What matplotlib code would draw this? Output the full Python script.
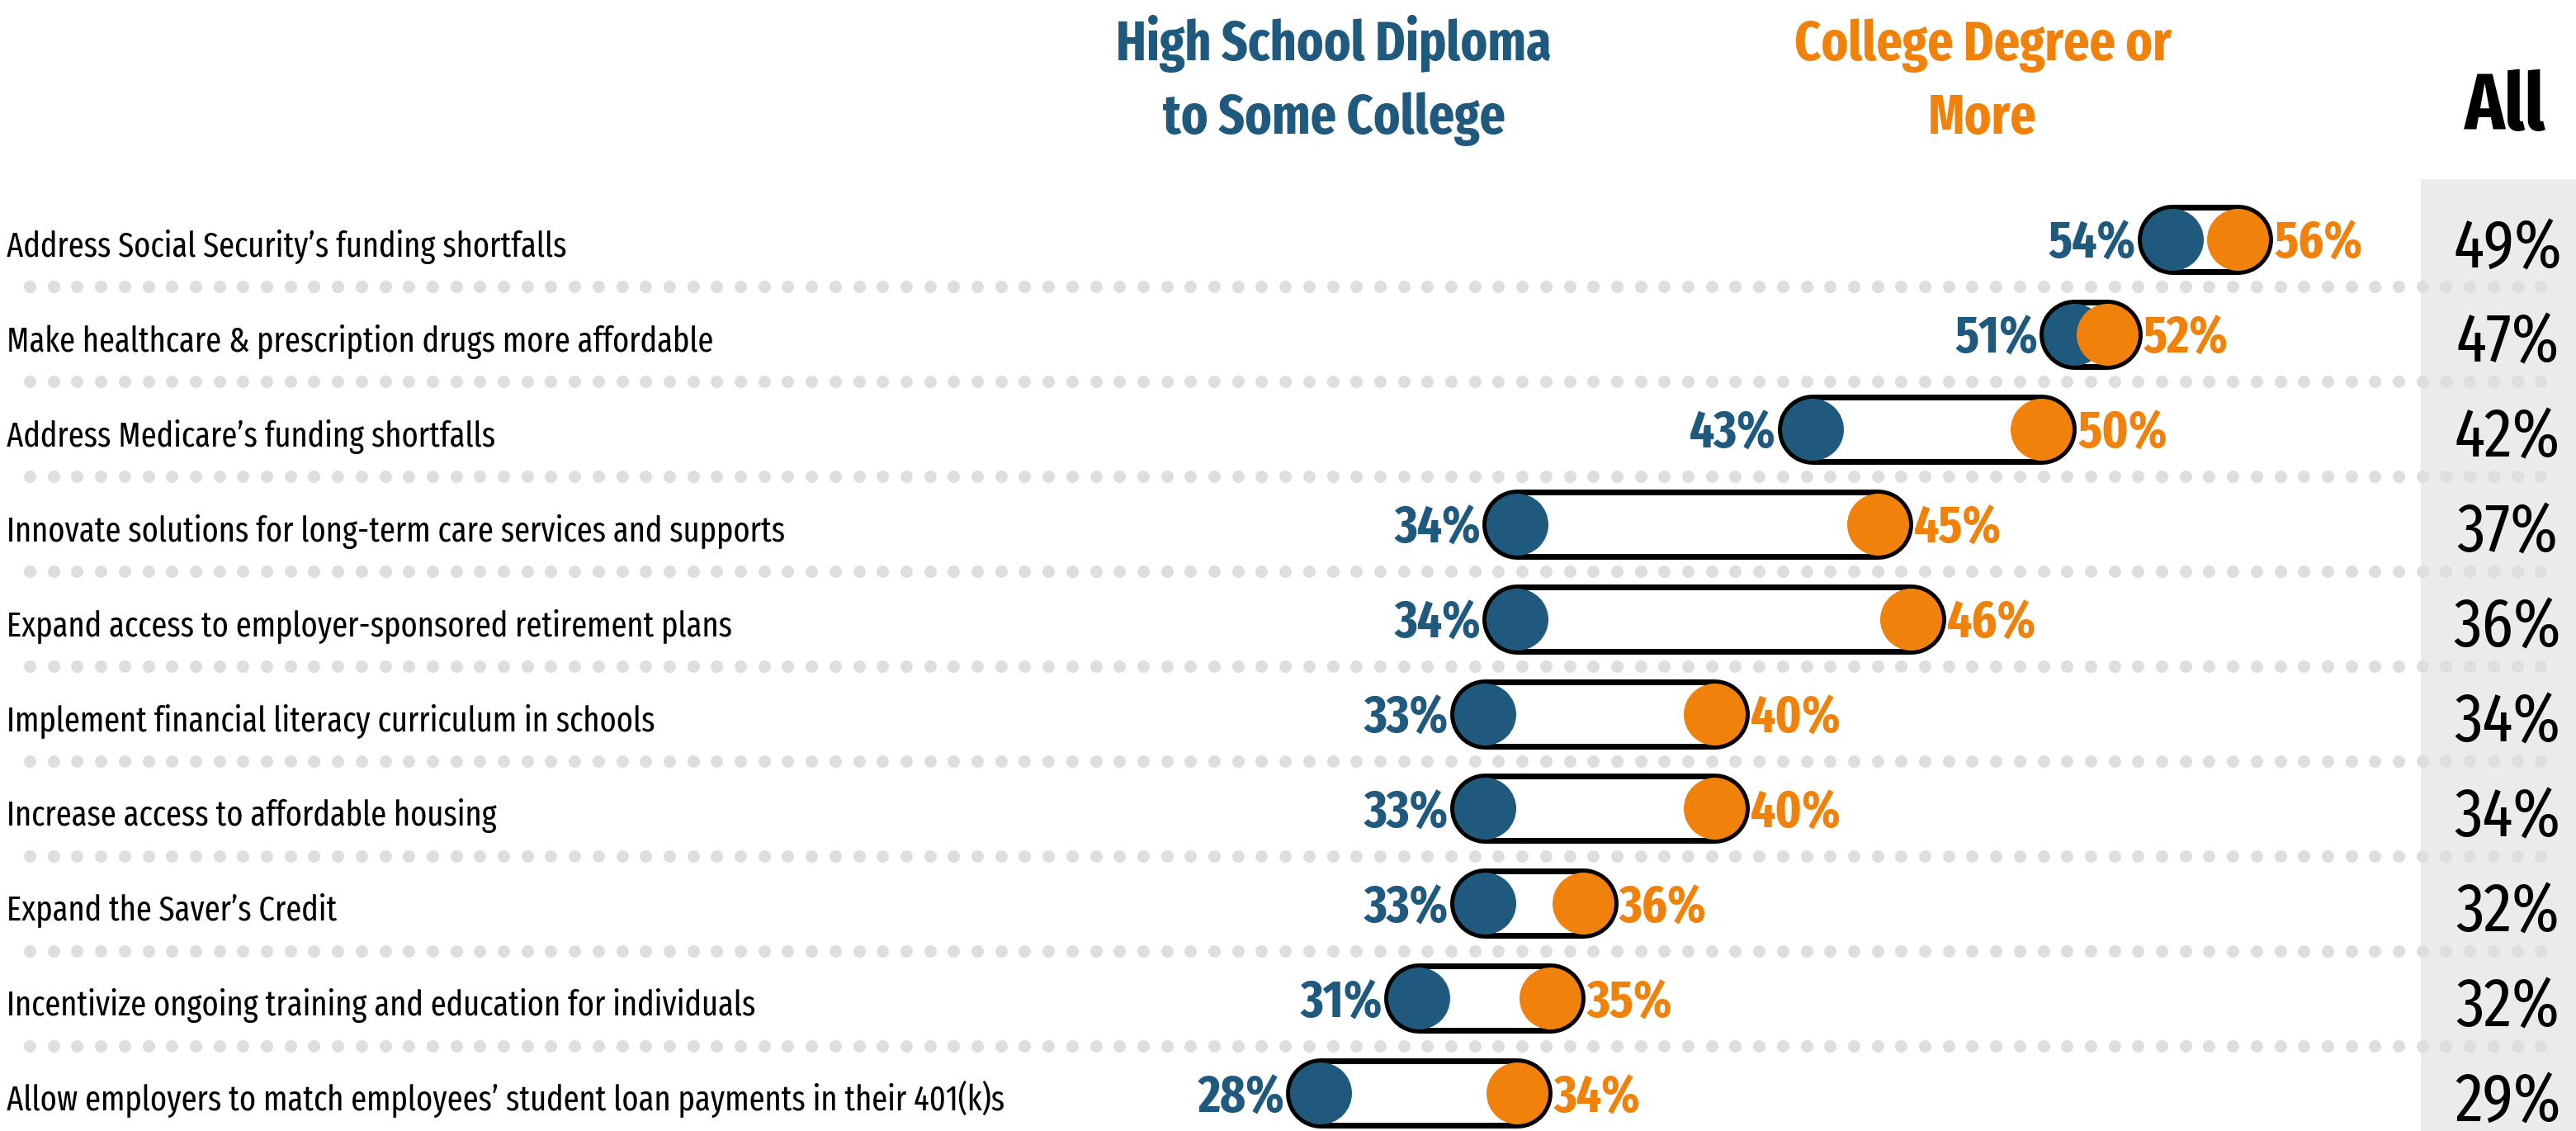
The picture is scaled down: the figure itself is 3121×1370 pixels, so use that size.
import os
import numpy as np
import matplotlib
matplotlib.use("Agg")
import matplotlib.pyplot as plt
from matplotlib import font_manager as fm
from matplotlib.patches import Rectangle

# ---------------- data ----------------
categories = [
    "Address Social Security\u2019s funding shortfalls",
    "Make healthcare & prescription drugs more affordable",
    "Address Medicare\u2019s funding shortfalls",
    "Innovate solutions for long-term care services and supports",
    "Expand access to employer-sponsored retirement plans",
    "Implement financial literacy curriculum in schools",
    "Increase access to affordable housing",
    "Expand the Saver\u2019s Credit",
    "Incentivize ongoing training and education for individuals",
    "Allow employers to match employees\u2019 student loan payments in their 401(k)s",
]
hs_values = [54, 51, 43, 34, 34, 33, 33, 33, 31, 28]
college_values = [56, 52, 50, 45, 46, 40, 40, 36, 35, 34]
all_values = [49, 47, 42, 37, 36, 34, 34, 32, 32, 29]

series_names = ["High School Diploma\nto Some College", "College Degree or\nMore", "All"]

BLUE = "#1f5a7e"
ORANGE = "#f0820c"
GRAY_COL = "#ebebeb"
DOT = "#dedede"


# ---------------- font selection (prefer a condensed face) ----------------
WEIGHT_WORDS = ["extralight", "ultralight", "semibold", "demibold", "extrabold",
                "ultrabold", "thin", "light", "medium", "black", "heavy", "bold"]


def _weight_of(base):
    for w in WEIGHT_WORDS:
        if w in base:
            return w
    return "regular"


def pick_font(bold):
    best, best_score = None, -1
    for f in fm.fontManager.ttflist:
        base = os.path.basename(f.fname).lower().replace("_", "").replace("-", "")
        if "italic" in base or "oblique" in base or "[" in base or "mono" in base:
            continue
        if "cjk" in base or "serif" in base:
            continue
        if "extracondensed" in base or "extcond" in base:
            width = 3
        elif "semicondensed" in base:
            width = 1
        elif "condensed" in base or "narrow" in base:
            width = 2
        else:
            continue
        stripped = base.replace("extracondensed", "").replace("semicondensed", "").replace("condensed", "")
        w = _weight_of(stripped)
        want = "bold" if bold else "regular"
        wscore = 2 if w == want else (1 if (bold and w in ("semibold", "extrabold", "black")) else 0)
        if wscore == 0:
            continue
        fam = 1 if ("sans" in base or "roboto" in base) else 0
        score = width * 10 + wscore * 3 + fam
        if score > best_score:
            best, best_score = f, score
    if best is not None:
        return fm.FontProperties(fname=best.fname)
    return fm.FontProperties(family=["Liberation Sans", "DejaVu Sans"],
                             weight="bold" if bold else "normal")


FP_REG = pick_font(False)
FP_BOLD = pick_font(True)

W, H = 3121, 1370
DPI = 100
PX = 72.0 / DPI  # points per pixel
CAP = 0.72       # cap height / em

fig = plt.figure(figsize=(W / DPI, H / DPI), dpi=DPI)
fig.patch.set_facecolor("white")
renderer = fig.canvas.get_renderer()

bg = fig.add_axes([0, 0, 1, 1], zorder=0)
bg.set_xlim(0, W)
bg.set_ylim(H, 0)
bg.axis("off")

ax = fig.add_axes([0, 0, 1, 1], zorder=1)
ax.patch.set_alpha(0)
x0_px, px_per_pct = 489.7, 39.67
ax.set_xlim((0 - x0_px) / px_per_pct, (W - x0_px) / px_per_pct)
ax.set_ylim(H, 0)
ax.axis("off")


def cap_size(cap_px):
    return cap_px / CAP * PX


def fit_group(texts, target_widths, size):
    """shrink all texts of the group by a common factor so none exceeds its target width"""
    ratio = 1.0
    for t, tw in zip(texts, target_widths):
        w = t.get_window_extent(renderer).width
        if w > tw:
            ratio = min(ratio, tw / w)
    for t in texts:
        t.set_fontsize(size * ratio)


n = len(categories)
row_y0, row_step = 290.0, 114.9
rows = row_y0 + row_step * np.arange(n)

# gray "All" column
bg.add_patch(Rectangle((2933, 217), W - 2933, H - 217, facecolor=GRAY_COL,
                       edgecolor="none", zorder=0))

# dotted separators
dot_x = np.arange(36, 3090, 28.7)
for i in range(n - 1):
    ys = np.full_like(dot_x, rows[i] + row_step / 2)
    bg.scatter(dot_x, ys, s=(15 * PX) ** 2, color=DOT, linewidths=0, zorder=1)

# pills
outer_h = 85
border = 7
circ_d = 75
for y, b, o in zip(rows, hs_values, college_values):
    ax.plot([b, o], [y, y], color="black", lw=outer_h * PX,
            solid_capstyle="round", zorder=2)
    ax.plot([b, o], [y, y], color="white", lw=(outer_h - 2 * border) * PX,
            solid_capstyle="round", zorder=3)
ax.scatter(hs_values, rows, s=(circ_d * PX) ** 2, color=BLUE, linewidths=0, zorder=4)
ax.scatter(college_values, rows, s=(circ_d * PX) ** 2, color=ORANGE, linewidths=0, zorder=5)

# value labels
val_cap = 46
val_fs = cap_size(val_cap)
gap_pt = 44 * PX
val_texts = []
for y, b, o in zip(rows, hs_values, college_values):
    lo, hi = min(b, o), max(b, o)
    t1 = ax.annotate(f"{b}%", (lo, y + val_cap / 2), xytext=(-gap_pt, 0),
                     textcoords="offset points", ha="right", va="baseline",
                     color=BLUE, fontproperties=FP_BOLD, zorder=6)
    t2 = ax.annotate(f"{o}%", (hi, y + val_cap / 2), xytext=(gap_pt, 0),
                     textcoords="offset points", ha="left", va="baseline",
                     color=ORANGE, fontproperties=FP_BOLD, zorder=6)
    val_texts += [t1, t2]
for t in val_texts:
    t.set_fontsize(val_fs)
fit_group(val_texts, [126] * len(val_texts), val_fs)

# category labels
lab_cap = 34
lab_fs = cap_size(lab_cap)
lab_texts = []
for y, c in zip(rows, categories):
    t = bg.text(8, y + 4 + lab_cap / 2, c, ha="left", va="baseline",
                fontproperties=FP_REG, color="black", zorder=6)
    t.set_fontsize(lab_fs)
    lab_texts.append(t)
fit_group(lab_texts, [1212] * n, lab_fs)

# All column values
all_cap = 60
all_fs = cap_size(all_cap)
all_texts = []
for y, a in zip(rows, all_values):
    t = bg.text(3038, y + 4 + all_cap / 2, f"{a}%", ha="center", va="baseline",
                fontproperties=FP_REG, color="black", zorder=6)
    t.set_fontsize(all_fs)
    all_texts.append(t)
fit_group(all_texts, [158] * n, all_fs)

# headers
hdr_cap = 52
hdr_fs = cap_size(hdr_cap)
hdr_texts, hdr_targets = [], []
for (xc, name, col, tw) in [(1616, series_names[0], BLUE, 548), (2402, series_names[1], ORANGE, 456)]:
    for k, line in enumerate(name.split("\n")):
        t = bg.text(xc, 47 + 89 * k + hdr_cap / 2, line, ha="center", va="baseline",
                    fontproperties=FP_BOLD, color=col)
        t.set_fontsize(hdr_fs)
        hdr_texts.append(t)
        hdr_targets.append(tw)
fit_group(hdr_texts, hdr_targets, hdr_fs)

all_hdr = bg.text(3035, 122 + 70 / 2, series_names[2], ha="center", va="baseline",
                  fontproperties=FP_BOLD, color="black")
all_hdr.set_fontsize(cap_size(70))
fit_group([all_hdr], [100], cap_size(70))

fig.savefig("out.png", dpi=DPI, facecolor="white")
